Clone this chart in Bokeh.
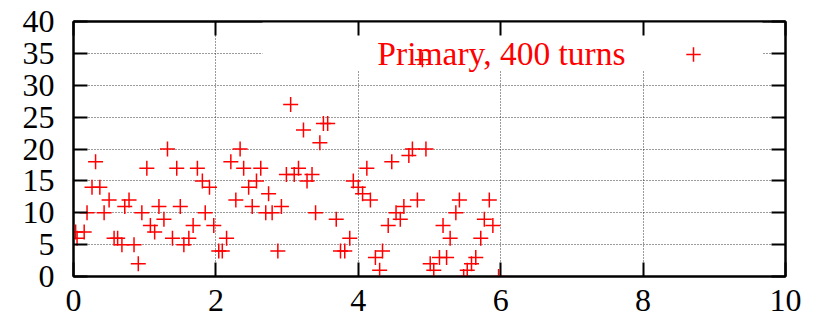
from bokeh.plotting import figure
from bokeh.models import (Range1d, FixedTicker, LinearAxis, Label, BoxAnnotation,
                          Legend, LegendItem, ColumnDataSource)
from bokeh.embed import file_html
from bokeh.resources import INLINE

x_vals = [0.03, 0.05, 0.15, 0.19, 0.26, 0.31, 0.37, 0.43, 0.50, 0.57, 0.62, 0.68, 0.72, 0.78, 0.85, 0.91, 0.96,
          1.03, 1.08, 1.14, 1.20, 1.27, 1.32, 1.39, 1.45, 1.50, 1.55, 1.62, 1.68, 1.74, 1.81, 1.85, 1.91, 1.97,
          2.04, 2.09, 2.15, 2.21, 2.28, 2.34, 2.39, 2.46, 2.51, 2.57, 2.63, 2.70, 2.74, 2.79, 2.87, 2.92, 2.99,
          3.05, 3.10, 3.16, 3.23, 3.28, 3.35, 3.40, 3.46, 3.51, 3.57, 3.69, 3.75, 3.81, 3.88, 3.93,
          4.00, 4.06, 4.12, 4.17, 4.24, 4.30, 4.34, 4.42, 4.47, 4.53, 4.59, 4.64, 4.71, 4.76, 4.83, 4.90, 4.95,
          5.01, 5.06, 5.14, 5.19, 5.24, 5.29, 5.37, 5.42, 5.48, 5.53, 5.59, 5.65, 5.72, 5.77, 5.84, 5.89, 5.97]
y_vals = [7, 6, 7, 10, 14, 18, 14, 10, 12, 6, 6, 5, 11, 12, 5, 2, 10,
          17, 8, 7, 11, 9, 20, 6, 17, 11, 5, 6, 8, 17, 15, 10, 14, 8,
          4, 4, 6, 18, 12, 20, 17, 14, 11, 15, 17, 10, 13, 10, 4, 11, 16,
          27, 16, 17, 23, 15, 16, 10, 21, 24, 24, 9, 4, 4, 6, 15,
          14, 13, 17, 12, 3, 1, 4, 8, 18, 10, 9, 11, 19, 20, 12, 34, 20,
          2, 1, 3, 8, 3, 6, 10, 12, 0, 1, 2, 3, 6, 9, 12, 8, 0]
x_ticks = [0, 2, 4, 6, 8, 10]
y_ticks = [0, 5, 10, 15, 20, 25, 30, 35, 40]
series_label = "Primary, 400 turns"

FONT = "Liberation Serif"

p = figure(width=819, height=328, output_backend="svg", toolbar_location=None,
           x_range=Range1d(0, 10), y_range=Range1d(0, 40),
           min_border_left=73, min_border_right=34, min_border_top=21, min_border_bottom=52)
p.background_fill_color = "white"
p.border_fill_color = "white"
p.outline_line_color = "black"
p.outline_line_width = 2


def style_axis(ax, ticks, labels=True):
    ax.ticker = FixedTicker(ticks=ticks)
    ax.axis_line_color = "black"
    ax.axis_line_width = 2
    ax.major_tick_in = 14
    ax.major_tick_out = 0
    ax.major_tick_line_color = "black"
    ax.major_tick_line_width = 2
    ax.minor_tick_line_color = None
    ax.major_label_text_font = FONT
    if labels:
        ax.major_label_text_color = "black"
        ax.major_label_text_font_size = "32px"
    else:
        ax.major_label_text_color = None
        ax.major_label_text_font_size = "1px"
        ax.major_label_standoff = 0


style_axis(p.xaxis[0], x_ticks)
p.xaxis[0].major_label_standoff = 13
style_axis(p.yaxis[0], y_ticks)
p.yaxis[0].major_label_standoff = 19

top_ax = LinearAxis()
style_axis(top_ax, x_ticks, labels=False)
p.add_layout(top_ax, "above")
right_ax = LinearAxis()
style_axis(right_ax, y_ticks, labels=False)
p.add_layout(right_ax, "right")

for g, t in ((p.xgrid[0], x_ticks), (p.ygrid[0], y_ticks)):
    g.ticker = FixedTicker(ticks=t)
    g.grid_line_color = "#222222"
    g.grid_line_alpha = 0.9
    g.grid_line_width = 1
    g.grid_line_dash = "1 2"

# white key area masking the grid (as gnuplot's key box)
mask = BoxAnnotation(left=189, right=689, bottom=205.5, top=255,
                     left_units="screen", right_units="screen",
                     bottom_units="screen", top_units="screen",
                     fill_color="white", fill_alpha=1.0, line_color=None, level="underlay")
p.add_layout(mask)

src = ColumnDataSource(data=dict(x=x_vals, y=y_vals))
r = p.scatter(x="x", y="y", source=src, marker="cross", size=15,
              line_color="#ff0000", line_width=1.5)

key_text = Label(x=552, y=223.5, x_units="screen", y_units="screen", text=series_label,
                 text_align="right", text_baseline="middle", text_font=FONT,
                 text_font_size="33.5px", text_color="#ff0000", level="underlay")
p.add_layout(key_text)

legend = Legend(items=[LegendItem(label=" ", renderers=[r])], location=(602, 204.5),
                padding=0, margin=0, glyph_width=36, glyph_height=36, label_standoff=0,
                label_width=0, label_height=0, spacing=0, label_text_font_size="1px",
                label_text_color=None, background_fill_alpha=0, border_line_color=None)
p.add_layout(legend)

open("out.html", "w").write(file_html(p, INLINE))
